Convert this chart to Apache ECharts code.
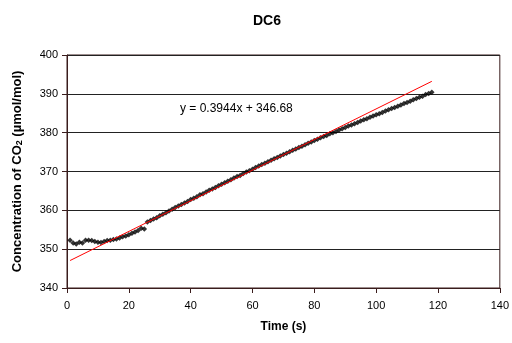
<!DOCTYPE html>
<html>
<head>
<meta charset="utf-8">
<script src="https://cdn.jsdelivr.net/npm/echarts@6/dist/echarts.min.js"></script>
<style>
  html, body { margin: 0; padding: 0; background: #ffffff; }
  #chart { width: 512px; height: 343px; }
</style>
</head>
<body>
<div id="chart"></div>
<script>
// DC6 chamber run: CO2 concentration sampled once per second
const chartTitle = 'DC6';
const xAxisTitle = 'Time (s)';

const timeSec = [
  1, 2, 3, 4, 5, 6, 7, 8, 9, 10, 11, 12, 13, 14, 15, 16, 17, 18, 19, 20,
  21, 22, 23, 24, 25, 26, 27, 28, 29, 30, 31, 32, 33, 34, 35, 36, 37, 38, 39, 40,
  41, 42, 43, 44, 45, 46, 47, 48, 49, 50, 51, 52, 53, 54, 55, 56, 57, 58, 59, 60,
  61, 62, 63, 64, 65, 66, 67, 68, 69, 70, 71, 72, 73, 74, 75, 76, 77, 78, 79, 80,
  81, 82, 83, 84, 85, 86, 87, 88, 89, 90, 91, 92, 93, 94, 95, 96, 97, 98, 99, 100,
  101, 102, 103, 104, 105, 106, 107, 108, 109, 110, 111, 112, 113, 114, 115, 116, 117, 118
];

const co2 = [
  352.3, 351.6, 351.3, 351.8, 351.6, 352.3, 352.3, 352.2, 352.0, 351.8,
  351.7, 352.0, 352.2, 352.3, 352.5, 352.6, 352.9, 353.2, 353.4, 353.7,
  354.1, 354.4, 354.8, 355.4, 355.2, 357.0, 357.4, 357.8, 358.1, 358.6,
  359.0, 359.4, 359.8, 360.3, 360.7, 361.1, 361.5, 361.9, 362.3, 362.8,
  363.1, 363.5, 364.0, 364.3, 364.7, 365.2, 365.5, 365.9, 366.3, 366.7,
  367.1, 367.5, 367.9, 368.3, 368.7, 369.0, 369.5, 369.9, 370.2, 370.6,
  371.0, 371.4, 371.8, 372.1, 372.5, 372.9, 373.3, 373.6, 374.0, 374.4,
  374.7, 375.1, 375.5, 375.8, 376.2, 376.5, 376.9, 377.3, 377.6, 378.0,
  378.3, 378.7, 379.0, 379.3, 379.7, 380.0, 380.3, 380.7, 381.0, 381.3,
  381.7, 382.0, 382.3, 382.6, 383.0, 383.3, 383.6, 384.0, 384.3, 384.6,
  384.9, 385.2, 385.6, 385.9, 386.2, 386.5, 386.8, 387.1, 387.5, 387.8,
  388.1, 388.5, 388.8, 389.1, 389.4, 389.8, 390.1, 390.4
];

// Linear trendline as reported on the chart
const trendSlope = 0.3944;
const trendIntercept = 346.68;

const xTicks = [0, 20, 40, 60, 80, 100, 120, 140];
const yTicks = [340, 350, 360, 370, 380, 390, 400];

const points = timeSec.map((t, i) => [t, co2[i]]);
const tFirst = timeSec[0];
const tLast = timeSec[timeSec.length - 1];
const trendPoints = [
  [tFirst, trendSlope * tFirst + trendIntercept],
  [tLast, trendSlope * tLast + trendIntercept]
];
const equationText = 'y = ' + trendSlope + 'x + ' + trendIntercept;

const FONT = 'Liberation Sans, Arial, sans-serif';
const AXIS_COLOR = '#3a1c1c';

const chart = echarts.init(document.getElementById('chart'), null, { renderer: 'canvas' });

chart.setOption({
  animation: false,
  backgroundColor: '#ffffff',
  title: {
    text: chartTitle,
    left: 262,
    top: 9,
    textAlign: 'center',
    textStyle: { fontFamily: FONT, fontSize: 14, fontWeight: 'bold', color: '#000' }
  },
  grid: {
    left: 67, right: 8, top: 55, bottom: 55,
    show: true,
    borderColor: AXIS_COLOR,
    borderWidth: 1,
    backgroundColor: '#ffffff'
  },
  xAxis: {
    type: 'value',
    min: xTicks[0],
    max: xTicks[xTicks.length - 1],
    interval: xTicks[1] - xTicks[0],
    name: xAxisTitle,
    nameLocation: 'middle',
    nameGap: 33,
    nameTextStyle: { fontFamily: FONT, fontSize: 12, fontWeight: 'bold', color: '#000' },
    axisLine: { show: true, onZero: false, lineStyle: { color: AXIS_COLOR, width: 1 } },
    axisTick: { show: true, inside: false, length: 5, lineStyle: { color: AXIS_COLOR } },
    axisLabel: { fontFamily: FONT, fontSize: 11, color: '#000', margin: 12 },
    splitLine: { show: false }
  },
  yAxis: {
    type: 'value',
    min: yTicks[0],
    max: yTicks[yTicks.length - 1],
    interval: yTicks[1] - yTicks[0],
    name: 'Concentration of CO{sub|2} (\u00b5mol/mol)',
    nameLocation: 'middle',
    nameGap: 43,
    nameTextStyle: {
      fontFamily: FONT, fontSize: 13, fontWeight: 'bold', color: '#000',
      rich: {
        sub: { fontFamily: FONT, fontSize: 9, fontWeight: 'bold', color: '#000', verticalAlign: 'bottom', padding: [4, 0, 0, 0] }
      }
    },
    axisLine: { show: true, onZero: false, lineStyle: { color: AXIS_COLOR, width: 1 } },
    axisTick: { show: true, inside: false, length: 5, lineStyle: { color: AXIS_COLOR } },
    axisLabel: { fontFamily: FONT, fontSize: 11, color: '#000', margin: 9 },
    splitLine: { show: true, lineStyle: { color: '#222', width: 1 } }
  },
  graphic: [
    {
      type: 'text',
      left: 180,
      top: 103,
      style: { text: equationText, fontFamily: FONT, fontSize: 12, fill: '#000' }
    }
  ],
  series: [
    {
      name: 'CO2',
      type: 'scatter',
      data: points,
      symbol: 'diamond',
      symbolSize: 5.5,
      itemStyle: { color: '#000000' },
      z: 2
    },
    {
      name: 'Linear fit',
      type: 'line',
      data: trendPoints,
      showSymbol: false,
      symbol: 'none',
      lineStyle: { color: '#ff0000', width: 1 },
      z: 3
    }
  ]
});
</script>
</body>
</html>
